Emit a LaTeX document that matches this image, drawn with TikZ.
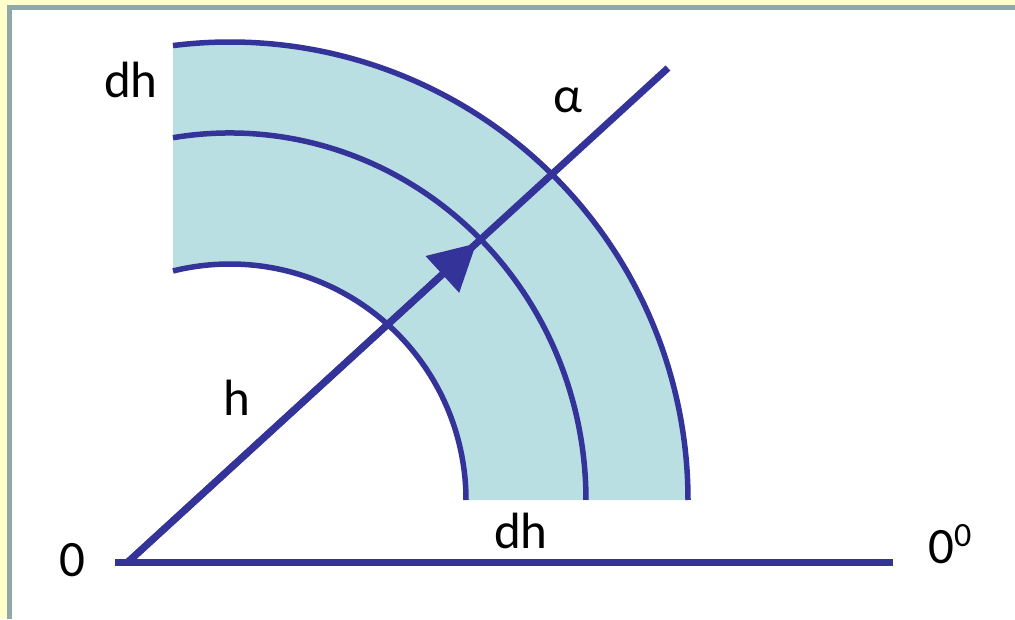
\documentclass[tikz,border=0pt]{standalone}
\usepackage{fontspec}
\setmainfont{Carlito}
\usetikzlibrary{arrows.meta,calc}
\definecolor{ink}{HTML}{333399}
\definecolor{band}{HTML}{B9DFE3}
\definecolor{framey}{HTML}{FFFFCC}
\definecolor{frameg}{HTML}{8FA8A8}
\tikzset{
  lbl/.style={inner sep=0pt, font=\fontsize{51}{60}\selectfont},
  arcline/.style={draw=ink, line width=5.5pt},
  axis/.style={draw=ink, line width=7pt}
}
\begin{document}
\begin{tikzpicture}[x=1pt,y=1pt]
\useasboundingbox (0,0) rectangle (1015,619);
\fill[framey] (0,0) rectangle (1015,619);
\fill[frameg] (7,0) rectangle (1015,614);
\fill[white] (12,0) rectangle (1015,609);
\coordinate (C) at (230,119);
% band fill
\fill[band] ($(C)+(97.15:458)$) arc[start angle=97.15, end angle=0, radius=458]
  -- ($(C)+(0:236)$) arc[start angle=0, end angle=103.97, radius=236] -- cycle;
% arcs
\draw[arcline] ($(C)+(97.15:458)$) arc[start angle=97.15, end angle=0, radius=458];
\draw[arcline] ($(C)+(-57,362.3)$) arc[start angle=99.21, end angle=0, x radius=356, y radius=367];
\draw[arcline] ($(C)+(103.97:236)$) arc[start angle=103.97, end angle=0, radius=236];
% axes
\coordinate (O) at (128,57);
\coordinate (E) at (668,551);
\coordinate (B0) at (115,57);
\coordinate (B1) at (893,57);
\draw[axis] (B0) -- (B1);
\draw[axis] (O) -- (E);
\draw[axis, -{Triangle[length=46pt,width=48pt]}] (O) -- ($(O)!0.645!(E)$);
% labels
\node[lbl] (dh1) at (131,539) {dh};
\node[lbl] (al) at (568,519) {α};
\node[lbl] (h) at (237,221) {h};
\node[lbl] (dh2) at (521,88) {dh};
\node[lbl] (z) at (72,59) {0};
\node[lbl, anchor=base west] (zd) at (928,56) {0\raisebox{17pt}{\fontsize{34}{40}\selectfont 0}};
\end{tikzpicture}
\end{document}
